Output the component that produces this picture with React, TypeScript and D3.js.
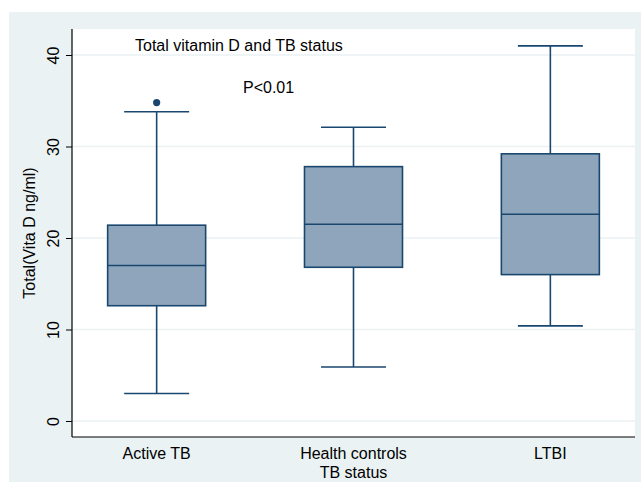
import React, { useRef, useEffect } from "react";
import * as d3 from "d3";

// categories and box summaries
const groups = ["Active TB", "Health controls", "LTBI"];
const whiskerLow = [3.0, 5.9, 10.4];
const q1 = [12.6, 16.8, 16.0];
const median = [17.0, 21.5, 22.6];
const q3 = [21.4, 27.8, 29.2];
const whiskerHigh = [33.8, 32.1, 41.0];
const outliers = [{ group: "Active TB", value: 34.8 }];
const yTicks = [0, 10, 20, 30, 40];

export default function App() {
  const svgRef = useRef<SVGSVGElement>(null);

  useEffect(() => {
    const width = 641;
    const height = 482;
    const plotLeft = 72;
    const plotRight = 635;
    const plotTop = 29;
    const plotBottom = 437;
    const font = "'Liberation Sans', Arial, sans-serif";
    const fs = 16;
    const navy = "#1a476f";
    const boxFill = "#8fa5bb";
    const bg = "#eaf2f3";

    const svg = d3.select(svgRef.current!);
    svg.selectAll("*").remove();
    svg.attr("width", width).attr("height", height).attr("viewBox", [0, 0, width, height].join(" "));

    const x = d3.scalePoint<string>().domain(groups).range([plotLeft, plotRight]).padding(0.43);
    const y = d3.scaleLinear().domain([0, 40]).range([421, 55]);

    const boxW = 98;
    const capW = 65;

    // backgrounds
    svg.append("rect").attr("width", width).attr("height", height).attr("fill", "#fff");
    svg.append("rect").attr("x", 9).attr("y", 12).attr("width", width - 9).attr("height", height - 12).attr("fill", bg);
    svg.append("rect")
      .attr("x", plotLeft).attr("y", plotTop)
      .attr("width", plotRight - plotLeft).attr("height", plotBottom - plotTop)
      .attr("fill", "#fff");

    // grid
    svg.append("g")
      .selectAll("line")
      .data(yTicks)
      .join("line")
      .attr("x1", plotLeft).attr("x2", plotRight)
      .attr("y1", d => y(d)).attr("y2", d => y(d))
      .attr("stroke", bg).attr("stroke-width", 1.5);

    // y axis
    const yAxis = svg.append("g")
      .attr("transform", `translate(${plotLeft},0)`)
      .call(d3.axisLeft(y).tickValues(yTicks).tickSize(6).tickPadding(0).tickSizeOuter(0))
      .call(g => g.select(".domain").remove());
    yAxis.selectAll(".tick line").attr("stroke", "#000");
    yAxis.selectAll(".tick text")
      .attr("transform", "rotate(-90)")
      .attr("x", 0).attr("y", -13)
      .attr("dy", 0)
      .attr("text-anchor", "middle")
      .attr("font-family", font).attr("font-size", fs).attr("fill", "#000");

    svg.append("line")
      .attr("x1", plotLeft).attr("x2", plotLeft)
      .attr("y1", plotTop).attr("y2", plotBottom)
      .attr("stroke", "#000").attr("stroke-width", 1.2);

    // x axis
    svg.append("line")
      .attr("x1", plotLeft).attr("x2", plotRight)
      .attr("y1", plotBottom).attr("y2", plotBottom)
      .attr("stroke", "#000").attr("stroke-width", 1.2);
    svg.append("g")
      .selectAll("text")
      .data(groups)
      .join("text")
      .attr("x", d => x(d)!)
      .attr("y", 459)
      .attr("text-anchor", "middle")
      .attr("font-family", font).attr("font-size", fs).attr("fill", "#000")
      .text(d => d);

    svg.append("text")
      .attr("x", x(groups[1])!).attr("y", 478)
      .attr("text-anchor", "middle")
      .attr("font-family", font).attr("font-size", fs).attr("fill", "#000")
      .text("TB status");

    svg.append("text")
      .attr("transform", `translate(35,${(plotTop + plotBottom) / 2}) rotate(-90)`)
      .attr("text-anchor", "middle")
      .attr("font-family", font).attr("font-size", fs).attr("fill", "#000")
      .text("Total(Vita D ng/ml)");

    // boxes
    const rows = groups.map((g, i) => ({
      g, lo: whiskerLow[i], q1: q1[i], med: median[i], q3: q3[i], hi: whiskerHigh[i],
    }));
    const box = svg.append("g")
      .selectAll("g")
      .data(rows)
      .join("g")
      .attr("transform", d => `translate(${x(d.g)},0)`)
      .attr("stroke", navy).attr("stroke-width", 1.6);

    box.append("line").attr("x1", 0).attr("x2", 0).attr("y1", d => y(d.hi)).attr("y2", d => y(d.q3));
    box.append("line").attr("x1", 0).attr("x2", 0).attr("y1", d => y(d.q1)).attr("y2", d => y(d.lo));
    box.append("line").attr("x1", -capW / 2).attr("x2", capW / 2).attr("y1", d => y(d.hi)).attr("y2", d => y(d.hi));
    box.append("line").attr("x1", -capW / 2).attr("x2", capW / 2).attr("y1", d => y(d.lo)).attr("y2", d => y(d.lo));
    box.append("rect")
      .attr("x", -boxW / 2).attr("width", boxW)
      .attr("y", d => y(d.q3)).attr("height", d => y(d.q1) - y(d.q3))
      .attr("fill", boxFill);
    box.append("line").attr("x1", -boxW / 2).attr("x2", boxW / 2).attr("y1", d => y(d.med)).attr("y2", d => y(d.med));

    svg.append("g")
      .selectAll("circle")
      .data(outliers)
      .join("circle")
      .attr("cx", d => x(d.group)!)
      .attr("cy", d => y(d.value))
      .attr("r", 3.6)
      .attr("fill", navy);

    // titles inside plot
    svg.append("text")
      .attr("x", 135).attr("y", 51)
      .attr("font-family", font).attr("font-size", fs).attr("fill", "#000")
      .text("Total vitamin D and TB status");
    svg.append("text")
      .attr("x", 243).attr("y", 93)
      .attr("font-family", font).attr("font-size", fs).attr("fill", "#000")
      .text("P<0.01");
  }, []);

  return (
    <div style={{ position: "absolute", left: 0, top: 0 }}>
      <svg ref={svgRef}></svg>
    </div>
  );
}
